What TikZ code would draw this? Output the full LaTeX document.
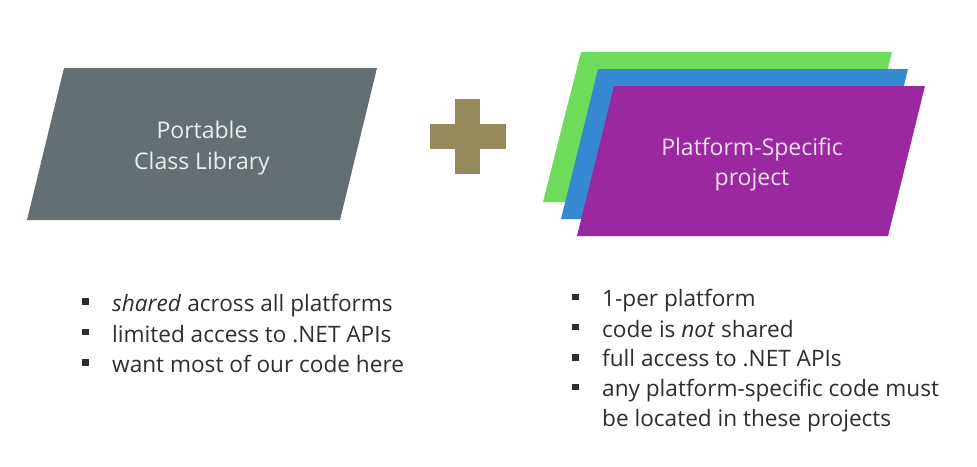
\documentclass[tikz,border=0pt]{standalone}
\usepackage{fontspec}
\setmainfont{Open Sans}
\definecolor{pclgray}{HTML}{646F74}
\definecolor{plusolive}{HTML}{94895A}
\definecolor{pgreen}{HTML}{6EDC5A}
\definecolor{pblue}{HTML}{3689D1}
\definecolor{ppurple}{HTML}{9A29A1}
\definecolor{txtgray}{HTML}{2E2E2E}
\definecolor{boxtxt}{HTML}{EDEDED}
\definecolor{purtxt}{HTML}{F2DFF2}
\tikzset{
  boxlabel/.style={font=\fontsize{23}{30}\selectfont, align=center, inner sep=0pt},
  itemtext/.style={font=\fontsize{22.6}{30.5}\selectfont, text=txtgray, anchor=base west, inner sep=0pt, align=left},
  bulletsq/.style={fill=txtgray, minimum size=6.3pt, inner sep=0pt},
}
\begin{document}
\begin{tikzpicture}[x=1pt,y=-1pt]
\useasboundingbox (0,0) rectangle (977,466);
\fill[white] (0,0) rectangle (977,466);
% Portable class library
\fill[pclgray] (64,68) -- (377,68) -- (340,220) -- (27,220) -- cycle;
\node[boxlabel, text=boxtxt, anchor=base] (pcl1) at (202,138) {Portable};
\node[boxlabel, text=boxtxt, anchor=base] (pcl2) at (202,169) {Class Library};
% plus
\fill[plusolive] (455,99) rectangle (480,174);
\fill[plusolive] (430,124) rectangle (506,149);
% stacked projects
\fill[pgreen] (581,52) -- (892,52) -- (855,202) -- (543,202) -- cycle;
\fill[pblue] (598,69) -- (908,69) -- (871,219) -- (561,219) -- cycle;
\fill[ppurple] (614,86) -- (925,86) -- (888,236) -- (577,236) -- cycle;
\node[boxlabel, text=purtxt, anchor=base] (ps1) at (752,155) {Platform-Specific};
\node[boxlabel, text=purtxt, anchor=base] (ps2) at (752,185) {project};
% left bullets
\node[bulletsq] (lb1) at (85.5,301.5) {};
\node[bulletsq] (lb2) at (85.5,332) {};
\node[bulletsq] (lb3) at (85.5,362.5) {};
\node[itemtext] (lt1) at (112,311.5) {\textit{shared} across all platforms};
\node[itemtext] (lt2) at (112,342) {limited access to .NET APIs};
\node[itemtext] (lt3) at (112,372.5) {want most of our code here};
% right bullets
\node[bulletsq] (rb1) at (575.5,297) {};
\node[bulletsq] (rb2) at (575.5,327) {};
\node[bulletsq] (rb3) at (575.5,357.5) {};
\node[bulletsq] (rb4) at (575.5,387) {};
\node[itemtext] (rt1) at (602,306.5) {1-per platform};
\node[itemtext] (rt2) at (602,337) {code is \textit{not} shared};
\node[itemtext] (rt3) at (602,366.5) {full access to .NET APIs};
\node[itemtext] (rt4) at (602,396.5) {any platform-specific code must};
\node[itemtext] (rt5) at (602,426.5) {be located in these projects};
\end{tikzpicture}
\end{document}
